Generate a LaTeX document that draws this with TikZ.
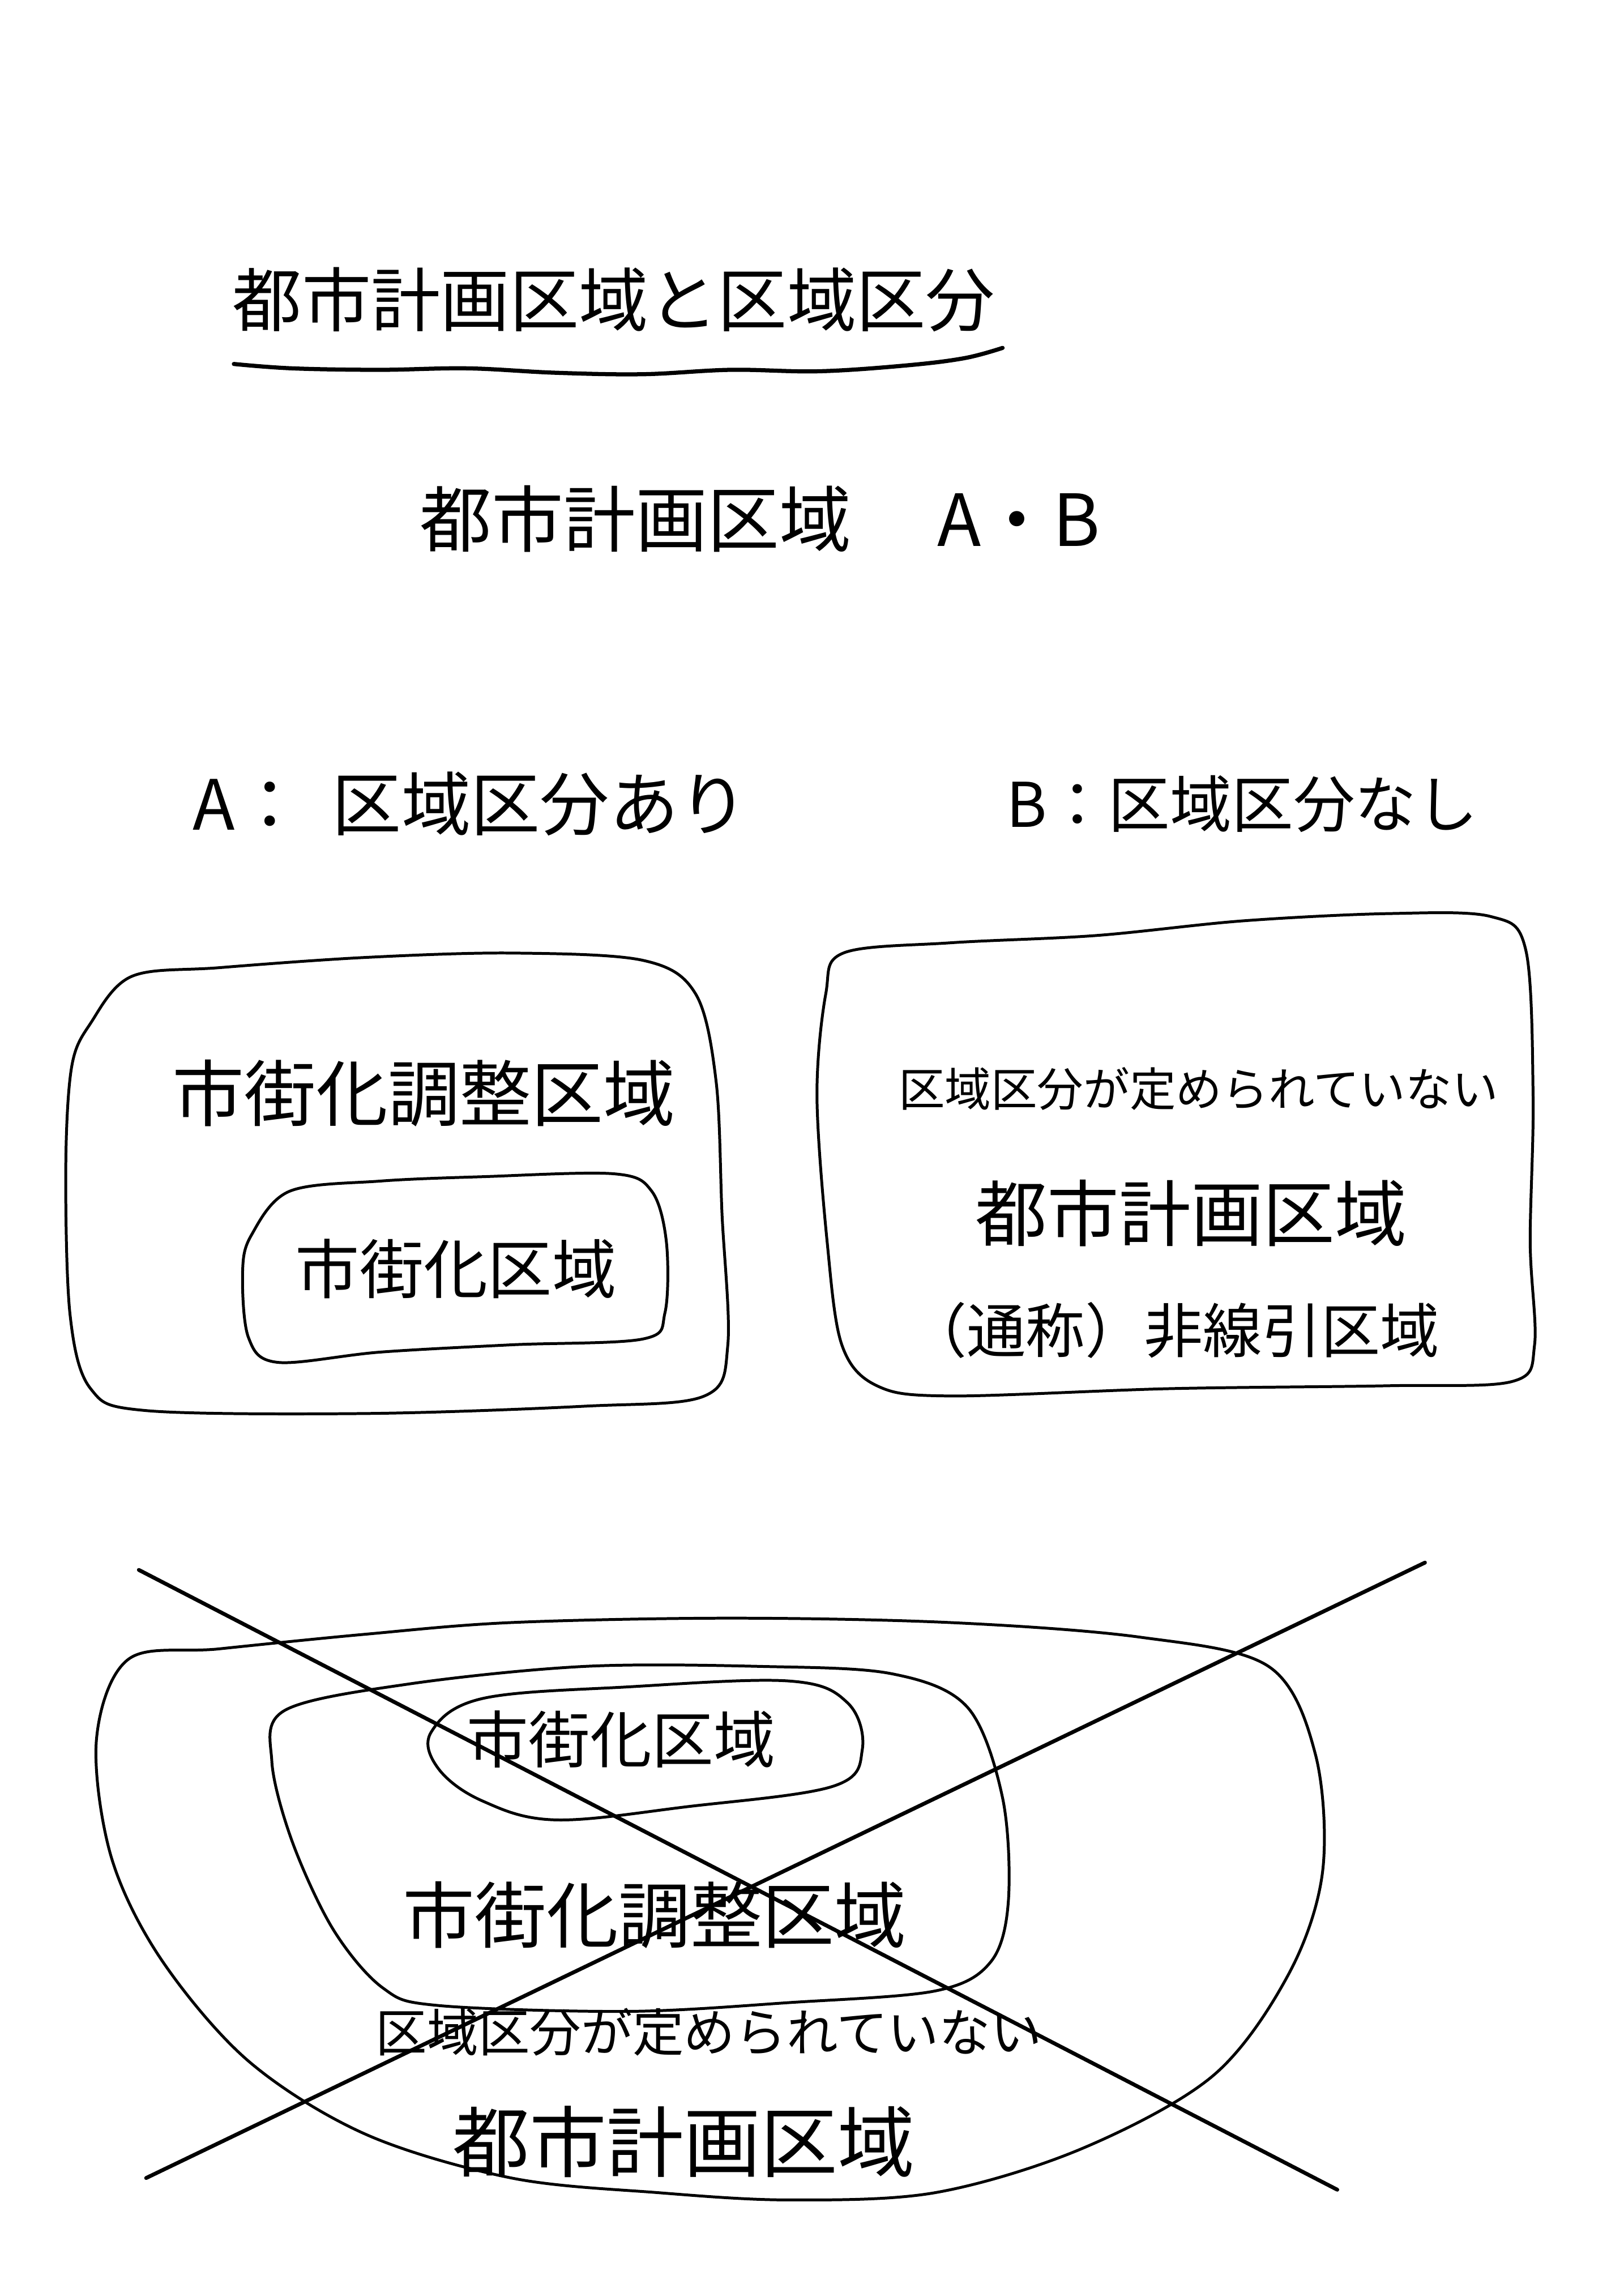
\documentclass[tikz,border=0pt]{standalone}
\usepackage{fontspec}
\newfontfamily\jp{Noto Sans CJK JP}
\tikzset{
  hand/.style={line width=1.1pt, line join=round, line cap=round},
  cross/.style={line width=1.5pt, line cap=round},
  lbl/.style={inner sep=0pt, font=\jp},
}
\newcommand{\fs}[1]{\fontsize{#1}{#1}\selectfont}
\begin{document}
\begin{tikzpicture}[x=0.02cm,y=-0.02cm]
\useasboundingbox[fill=white] (0,0) rectangle (1111,1568);

% title
\node[lbl] (title) at (420,205) {\fs{27pt}都市計画区域と区域区分};
\draw[hand, line width=1.6pt] plot[smooth, tension=0.6] coordinates {(160,249) (200,252) (260,253) (320,252) (380,255) (440,256) (500,253) (560,254) (620,250) (660,245) (686,238)};

\node[lbl] (sub) at (520,355) {\fs{28pt}都市計画区域\hspace{1.2em}A・B};

\node[lbl] (ha) at (322,550) {\fs{27pt}A：\hspace{0.4em}区域区分あり};
\node[lbl] (hb) at (850,550) {\fs{24pt}B：区域区分なし};

% left box
\draw[hand] plot[smooth cycle, tension=0.55] coordinates {(62,700) (90,668) (150,662) (250,655) (350,652) (440,657) (476,680) (490,740) (494,830) (498,920) (482,955) (400,962) (250,967) (100,965) (62,950) (48,900) (45,800) (49,730)};
\node[lbl] (lchousei) at (290,748) {\fs{28pt}市街化調整区域};
\draw[hand] plot[smooth cycle, tension=0.55] coordinates {(172,845) (198,815) (260,808) (330,805) (420,803) (446,815) (456,850) (455,898) (440,916) (350,920) (260,925) (190,932) (170,915) (166,870)};
\node[lbl] (lshigai) at (312,868) {\fs{25pt}市街化区域};

% right box
\draw[hand] plot[smooth cycle, tension=0.55] coordinates {(577,652) (650,645) (750,640) (850,630) (950,625) (1020,627) (1044,650) (1049,750) (1047,850) (1050,920) (1035,945) (950,948) (800,950) (650,955) (600,948) (576,920) (566,850) (559,750) (565,680)};
\node[lbl] (r1) at (820,745) {\fs{18pt}区域区分が定められていない};
\node[lbl] (r2) at (815,830) {\fs{28pt}都市計画区域};
\node[lbl] (r3) at (803,910) {\fs{23pt}（通称）非線引区域};

% bottom blobs
\draw[hand] plot[smooth cycle, tension=0.55] coordinates {(88,1135) (150,1128) (250,1118) (350,1110) (500,1107) (650,1110) (780,1120) (868,1140) (900,1200) (905,1280) (882,1350) (830,1420) (740,1470) (640,1500) (540,1505) (450,1500) (350,1490) (250,1460) (170,1410) (110,1340) (76,1270) (66,1190)};
\draw[hand] plot[smooth cycle, tension=0.55] coordinates {(195,1170) (280,1152) (400,1140) (520,1140) (610,1145) (662,1168) (686,1230) (690,1300) (678,1342) (640,1362) (540,1370) (430,1376) (300,1372) (262,1360) (228,1320) (200,1260) (186,1205)};
\draw[hand] plot[smooth cycle, tension=0.6] coordinates {(295,1185) (330,1162) (430,1154) (540,1150) (580,1165) (590,1197) (570,1222) (470,1236) (380,1245) (330,1232) (300,1210)};

\node[lbl] (bshigai) at (425,1190) {\fs{24pt}市街化区域};
\node[lbl] (bchousei) at (448,1310) {\fs{28pt}市街化調整区域};
\node[lbl] (bnone) at (485,1390) {\fs{20pt}区域区分が定められていない};
\node[lbl] (btoshi) at (468,1465) {\fs{30pt}都市計画区域};

% cross
\coordinate (x1a) at (95,1074);
\coordinate (x1b) at (915,1498);
\coordinate (x2a) at (100,1490);
\coordinate (x2b) at (975,1069);
\draw[cross] (x1a) -- (x1b);
\draw[cross] (x2a) -- (x2b);
\end{tikzpicture}
\end{document}
